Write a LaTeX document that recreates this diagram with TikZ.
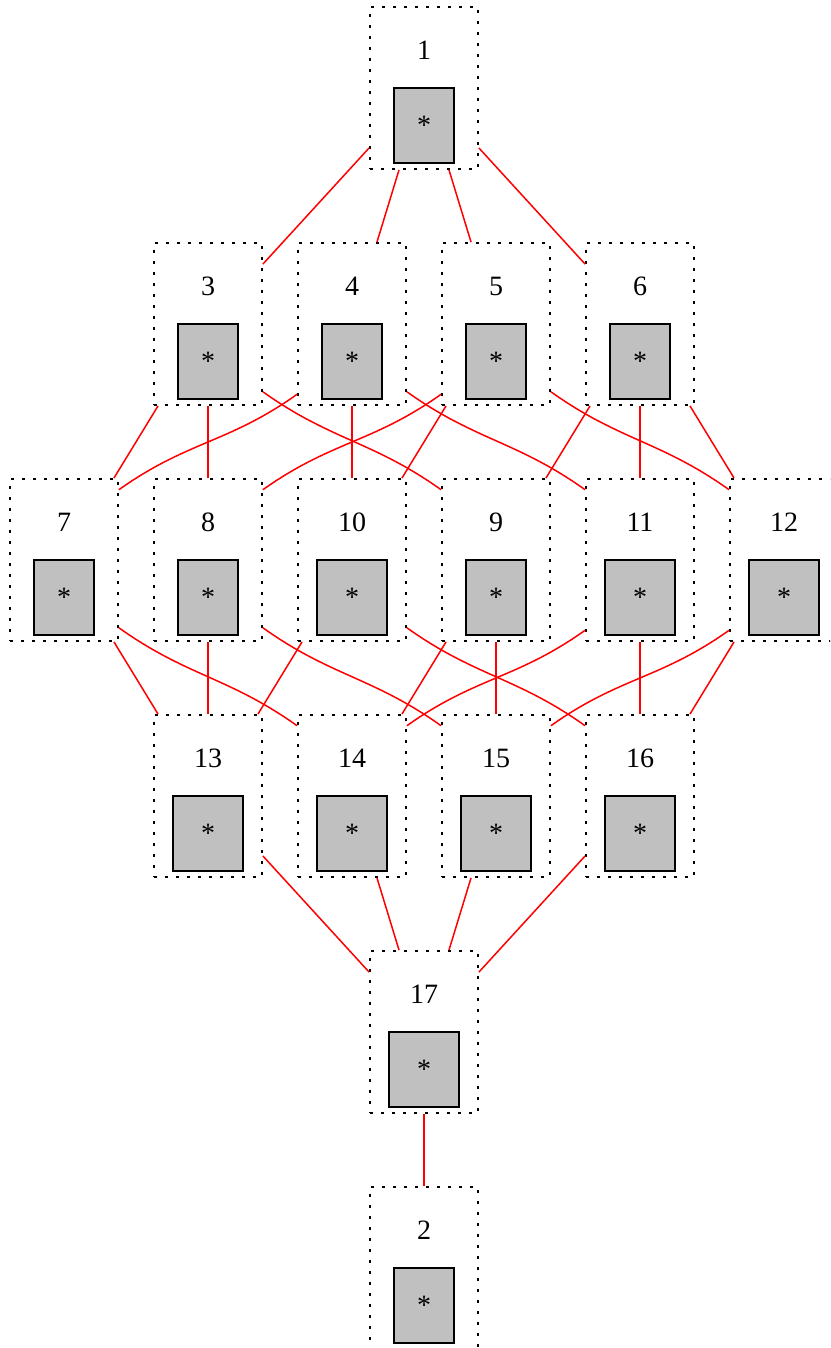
\documentclass[tikz,border=0pt]{standalone}
\usepackage{fontspec}
\setmainfont{Liberation Serif}
\usepackage{tikz}
\usetikzlibrary{positioning}
\usepackage{xcolor}
\definecolor{boxgray}{RGB}{192,192,192}

\begin{document}
\begin{tikzpicture}[
    x=0.5pt, y=0.5pt,
    cell/.style={draw, line width=0.9pt, dash pattern=on 1.7pt off 3.8pt, minimum width=54pt, minimum height=81pt, inner sep=0pt},
    num/.style={inner sep=0pt, font=\fontsize{14}{16}\selectfont},
    starbox/.style={draw, line width=0.95pt, fill=boxgray, minimum height=37.5pt, inner sep=0pt, font=\fontsize{14}{16}\selectfont},
    link/.style={red, line width=0.75pt},
    slink/.style={link, out distance=42.3pt, in distance=42.3pt}
]

\useasboundingbox (0,0) rectangle (830,-1348);
\clip (0,0) rectangle (830,-1348);

% Nodes
\foreach \n/\x/\y/\w in {1/424/88/30pt,
    3/208/324/30pt, 4/352/324/30pt, 5/496/324/30pt, 6/640/324/30pt,
    7/64/560/30pt, 8/208/560/30pt, 10/352/560/35pt, 9/496/560/30pt, 11/640/560/35pt, 12/784/560/35pt,
    13/208/796/35pt, 14/352/796/35pt, 15/496/796/35pt, 16/640/796/35pt,
    17/424/1032/35pt, 2/424/1268/30pt} {
  \node[cell] (n\n) at (\x,-\y) {};
  \node[num] (l\n) at ([yshift=18.7pt]n\n.center) {\n};
  \node[starbox, minimum width=\w] (s\n) at ([yshift=-18.6pt]n\n.center) {*};
}

% Straight edges
\foreach \a/\b in {1/3, 1/4, 1/5, 1/6,
    3/7, 3/8, 4/10, 5/10, 6/9, 6/11, 6/12,
    7/13, 8/13, 10/13, 9/14, 9/15, 11/16, 12/16,
    13/17, 14/17, 15/17, 16/17, 17/2}
  \draw[link] (n\a) -- (n\b);

% Curved edges
\foreach \a/\b in {3/9, 4/11, 5/12, 7/14, 8/15, 10/16}
  \draw[slink] (n\a.-51.5) to[out=-35.4, in=144.6] (n\b.128);
\foreach \a/\b in {4/7, 5/8, 11/14, 12/15}
  \draw[slink] (n\a.-128.5) to[out=-144.6, in=35.4] (n\b.52);

\end{tikzpicture}
\end{document}
